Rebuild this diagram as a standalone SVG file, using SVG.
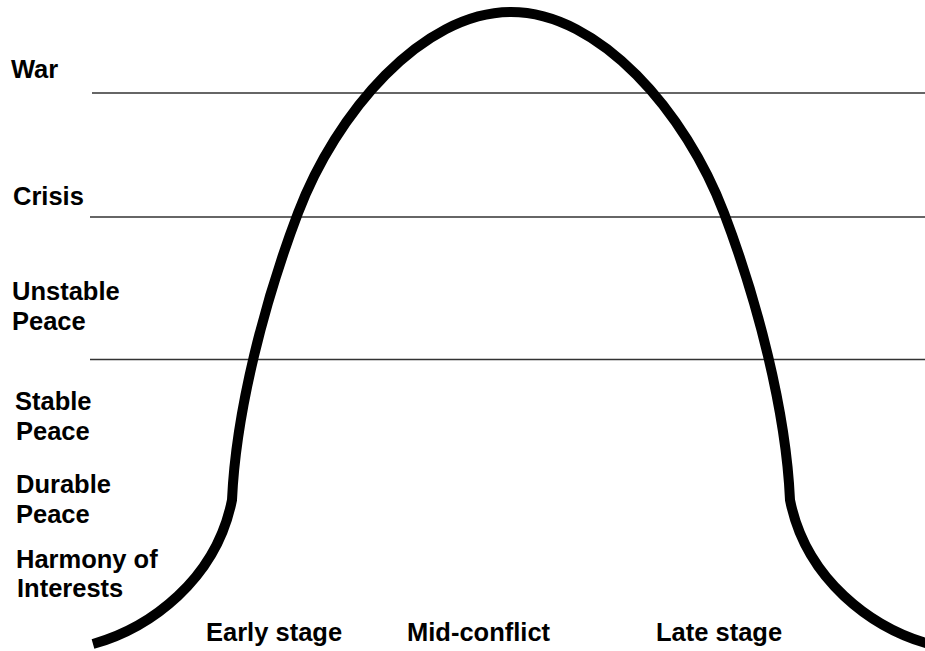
<svg xmlns="http://www.w3.org/2000/svg" width="925" height="651" viewBox="0 0 925 651">
  <style>
    .lbl { font-family: "Liberation Sans", Arial, sans-serif; font-weight: bold; font-size: 25.5px; fill: #000; }
    .level { stroke: #333; stroke-width: 1.4; fill: none; }
    .curve { stroke: #000; stroke-width: 10; fill: none; stroke-linejoin: round; }
  </style>
  <rect width="925" height="651" fill="#fff"/>
  <g id="level-lines">
    <line class="level" x1="92" y1="93" x2="925" y2="93"/>
    <line class="level" x1="90" y1="217" x2="925" y2="217"/>
    <line class="level" x1="90" y1="359.5" x2="925" y2="359.5"/>
  </g>
  <g id="conflict-curve">
    <path class="curve" d="M93,644 C150,628 216,580 232,500 C236,410 265,300 298,213 C336,113 422,12 511,12 C600,12 686,113 724,213 C757,300 786,410 790,500 C806,580 872,628 929,644"/>
  </g>
  <g id="label-war"><text class="lbl" x="11" y="78">War</text></g>
  <g id="label-crisis"><text class="lbl" x="13" y="205">Crisis</text></g>
  <g id="label-unstable"><text class="lbl" x="12" y="300">Unstable</text><text class="lbl" x="12" y="330">Peace</text></g>
  <g id="label-stable"><text class="lbl" x="15" y="410">Stable</text><text class="lbl" x="16" y="440">Peace</text></g>
  <g id="label-durable"><text class="lbl" x="16" y="493">Durable</text><text class="lbl" x="16" y="523">Peace</text></g>
  <g id="label-harmony"><text class="lbl" x="16" y="568">Harmony of</text><text class="lbl" x="17" y="597">Interests</text></g>
  <g id="label-early"><text class="lbl" x="206" y="641">Early stage</text></g>
  <g id="label-mid"><text class="lbl" x="407" y="641">Mid-conflict</text></g>
  <g id="label-late"><text class="lbl" x="656" y="641">Late stage</text></g>
</svg>
